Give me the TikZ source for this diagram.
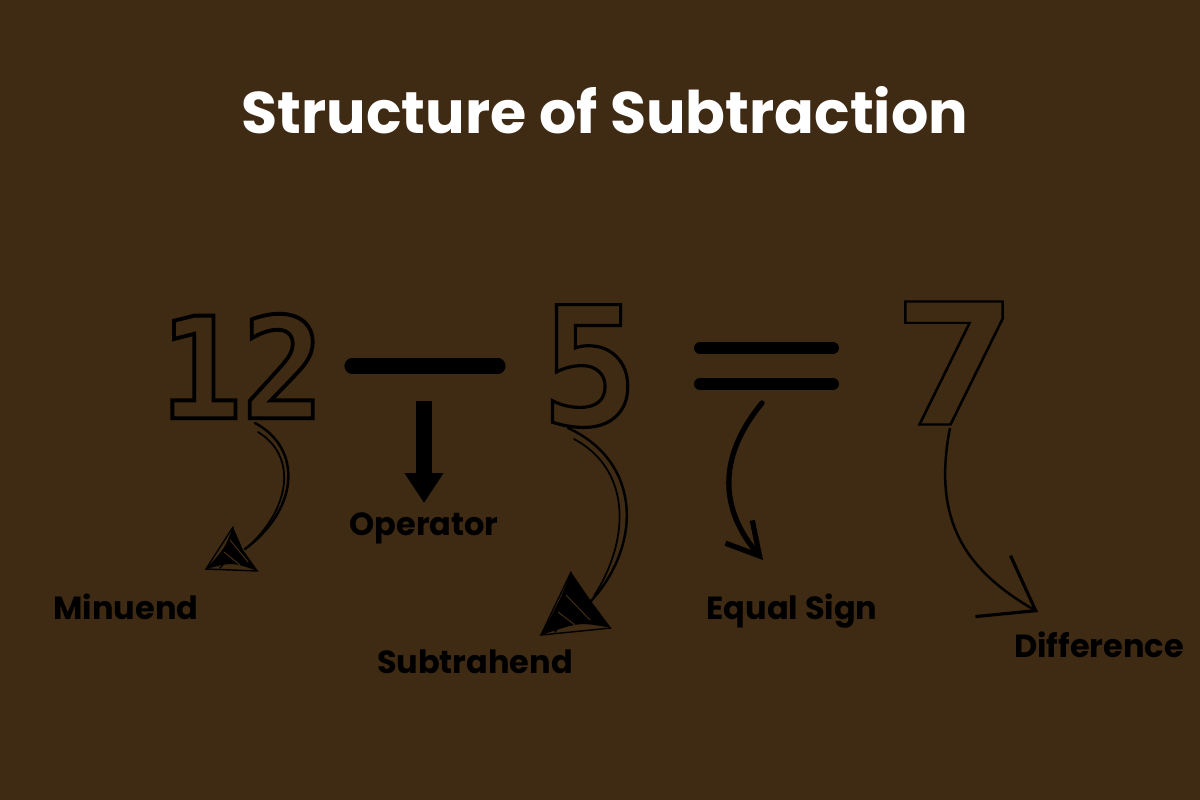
\documentclass[tikz,border=0pt]{standalone}
\usepackage{fontspec}
\usepackage{tikz}
\usetikzlibrary{arrows.meta}
\setmainfont{Poppins}
\newfontfamily\digitfont{DejaVu Sans Mono}
\definecolor{bgbrown}{HTML}{3F2A13}
\newcommand\hollowtext[2]{\special{pdf:literal direct #1 w 1 Tr}#2\special{pdf:literal direct 0 Tr}}
\tikzstyle{label} = [font=\fontsize{9.1}{11}\selectfont\bfseries, text=black, inner sep=0pt, anchor=base]
\tikzstyle{digit} = [text=black, inner sep=0pt]
\tikzstyle{sketch} = [draw=black, line width=0.7pt, line cap=round]

\begin{document}
\begin{tikzpicture}[x=0.01cm,y=-0.01cm]

\fill[bgbrown] (0,0) rectangle (1200,800);
\useasboundingbox (0,0) rectangle (1200,800);

\node[font=\fontsize{16.7}{20}\selectfont\bfseries, text=white, inner sep=0pt, anchor=base] (title) at (605,133) {Structure of Subtraction};

\node[digit, font=\digitfont\fontsize{40}{40}\selectfont\bfseries, xscale=0.97] (twelve) at (242,366) {\hollowtext{1.1}{12}};
\node[digit, font=\digitfont\fontsize{47}{47}\selectfont\bfseries, xscale=0.98] (five) at (590,366) {\hollowtext{0.9}{5}};
\node[digit, font=\digitfont\fontsize{48}{48}\selectfont\bfseries, xscale=1.25] (seven) at (955,363) {\hollowtext{0.6}{7}};

\coordinate (minus) at (425,366);
\coordinate (equals) at (766,366);
\draw[line width=4.3pt, line cap=round] (352,366) -- (498,366);
\draw[line width=3.4pt, line cap=round] (700,348) -- (833,348);
\draw[line width=3.4pt, line cap=round] (700,384) -- (833,384);

\node[label] (minuend) at (126,619) {Minuend};
\node[label] (operator) at (424,535) {Operator};
\node[label] (subtrahend) at (475,673) {Subtrahend};
\node[label] (equalsign) at (792,619) {Equal Sign};
\node[label] (difference) at (1099,657) {Difference};

\coordinate (mtip) at (206,569);
\coordinate (stip) at (541,635);
\coordinate (etip) at (763,560);
\coordinate (dtip) at (1038,612);

% minuend
\draw[sketch] (255,423) .. controls (302,448) and (300,508) .. (245,549);
\draw[sketch, line width=0.5pt] (258,432) .. controls (296,455) and (292,505) .. (250,545);
\fill[black] (233,527) .. controls (225,548) .. (mtip) .. controls (232,562) .. (258,571) -- (243,550) -- cycle;
\draw[sketch, line width=0.4pt] (233,527) -- (mtip) -- (258,571) (236,535) -- (212,566) (240,545) -- (220,568);
\draw[bgbrown, line width=0.3pt] (230,540) -- (248,562) (224,552) -- (240,565);

% operator
\draw[line width=4.3pt, -{Triangle[width=10.5pt,length=8.5pt]}] (424,401) -- (424,503);

% subtrahend
\draw[sketch] (568,428) .. controls (642,462) and (642,545) .. (591,601);
\draw[sketch, line width=0.5pt] (574,439) .. controls (632,470) and (630,540) .. (594,596);
\fill[black] (571,572) .. controls (560,600) .. (stip) .. controls (580,622) .. (611,628) -- (591,601) -- cycle;
\draw[sketch, line width=0.4pt] (571,572) -- (stip) -- (611,628) (574,582) -- (548,630) (580,595) -- (555,632);
\draw[bgbrown, line width=0.3pt] (566,595) -- (590,620) (558,612) -- (575,625);

% equal sign
\draw[line width=1.5pt, line cap=round, -{Straight Barb[length=9pt,width=10pt,line width=1.5pt]}] (762,403) .. controls (715,460) and (722,512) .. (etip);

% difference
\draw[line width=0.7pt, -{Straight Barb[length=14pt,width=20pt,line width=0.9pt]}] (950,428) .. controls (932,520) and (965,570) .. (dtip);
\end{tikzpicture}
\end{document}
